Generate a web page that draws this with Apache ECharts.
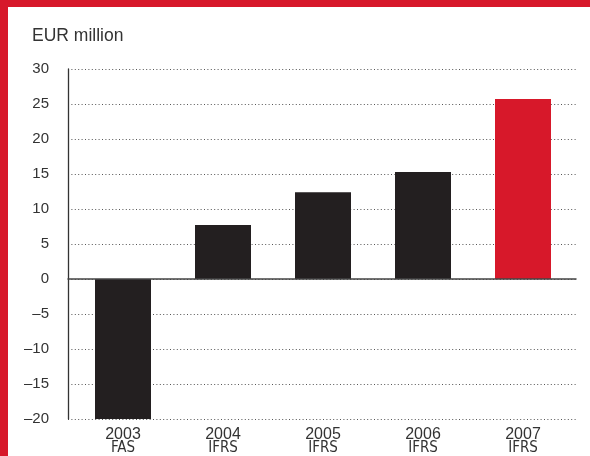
<!DOCTYPE html>
<html>
<head>
<meta charset="utf-8">
<style>
  html, body { margin: 0; padding: 0; background: #fff; }
  #chart { width: 590px; height: 456px; }
</style>
<script src="https://cdn.jsdelivr.net/npm/echarts@6/dist/echarts.min.js"></script>
</head>
<body>
<div id="chart"></div>
<script>
// Annual result, EUR million
const years = ['2003', '2004', '2005', '2006', '2007'];
const standards = ['FAS', 'IFRS', 'IFRS', 'IFRS', 'IFRS'];
const values = [-20, 7.7, 12.4, 15.3, 25.7];
const yTicks = { min: -20, max: 30, step: 5 };

const DARK = '#231f20';
const RED = '#d7182a';
const TEXT = '#333333';
const FONT = '"Liberation Sans", Arial, sans-serif';
const NARROW = '"Liberation Sans Narrow", "Arial Narrow", "DejaVu Sans Condensed", sans-serif';

const chart = echarts.init(document.getElementById('chart'), null, { renderer: 'canvas' });

chart.setOption({
  animation: false,
  title: {
    text: 'EUR million',
    left: 32,
    top: 27,
    padding: 0,
    textStyle: { fontFamily: FONT, fontSize: 17.5, fontWeight: 'normal', color: TEXT }
  },
  graphic: [
    { type: 'rect', left: 0, top: 0, shape: { width: 590, height: 7 }, style: { fill: RED }, z: 100 },
    { type: 'rect', left: 0, top: 0, shape: { width: 8, height: 456 }, style: { fill: RED }, z: 100 }
  ],
  grid: [
    // frame: value scale, dotted grid, axis lines
    { left: 68, right: 14, top: 69, bottom: 37 },
    // bars and category labels
    { left: 73, width: 500, top: 69, bottom: 37 }
  ],
  xAxis: [
    {
      gridIndex: 0,
      type: 'category',
      data: years,
      axisLine: { show: true, onZero: true, lineStyle: { color: '#444', width: 1.5 } },
      axisTick: { show: false },
      axisLabel: { show: false },
      z: 5
    },
    {
      gridIndex: 1,
      type: 'category',
      data: years,
      axisLine: { show: false },
      axisTick: { show: false },
      axisLabel: {
        margin: 8,
        formatter: (v, i) => '{y|' + v + '}\n{s|' + standards[i] + '}',
        rich: {
          y: { fontFamily: FONT, fontSize: 16, color: TEXT, lineHeight: 15 },
          s: { fontFamily: NARROW, fontSize: 15, color: TEXT, lineHeight: 12 }
        }
      }
    }
  ],
  yAxis: [
    {
      gridIndex: 0,
      type: 'value',
      min: yTicks.min,
      max: yTicks.max,
      interval: yTicks.step,
      axisLine: { show: true, lineStyle: { color: '#333', width: 1.3 } },
      axisTick: { show: false },
      axisLabel: {
        margin: 19,
        fontFamily: FONT,
        fontSize: 15,
        color: TEXT,
        formatter: v => String(v).replace('-', '\u2013')
      },
      splitLine: { show: true, lineStyle: { color: '#555', width: 1, type: [1, 2.4] } }
    },
    {
      gridIndex: 1,
      type: 'value',
      min: yTicks.min,
      max: yTicks.max,
      interval: yTicks.step,
      show: false,
      splitLine: { show: false }
    }
  ],
  series: [
    {
      type: 'bar',
      xAxisIndex: 1,
      yAxisIndex: 1,
      barWidth: 56,
      data: values.map((v, i) => ({
        value: v,
        itemStyle: { color: i === values.length - 1 ? RED : DARK }
      }))
    }
  ]
});
</script>
</body>
</html>
